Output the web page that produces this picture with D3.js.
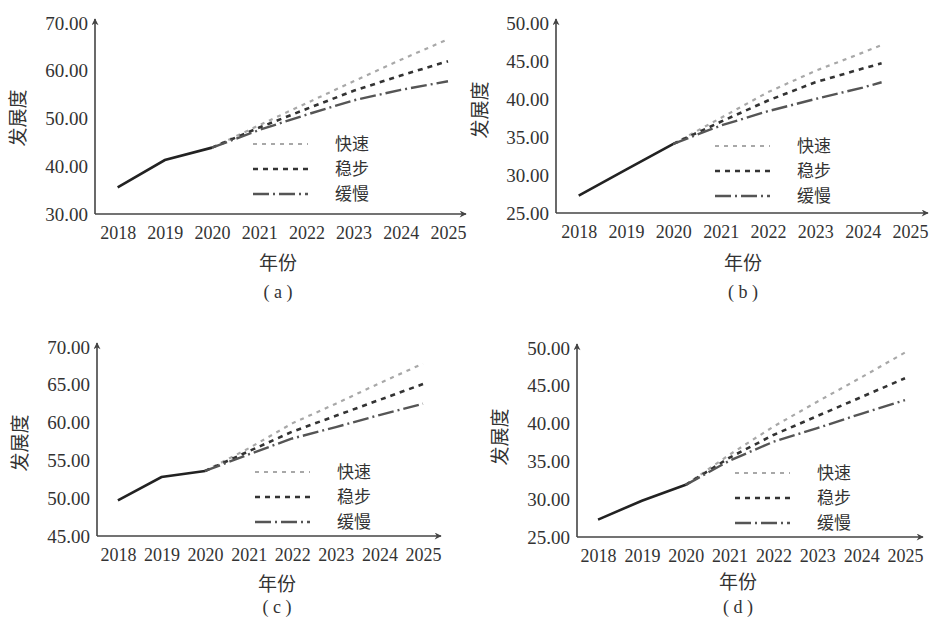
<!DOCTYPE html>
<html>
<head>
<meta charset="utf-8">
<script src="https://cdn.jsdelivr.net/npm/d3@7"></script>
<style>
  body { margin: 0; background: #fff; }
</style>
</head>
<body>
<svg width="929" height="620"></svg>
<script>
// years on the x axis
var years = [2018, 2019, 2020, 2021, 2022, 2023, 2024, 2025];
var histYears = [2018, 2019, 2020];
var foreYears = [2020, 2021, 2022, 2023, 2024, 2025];
var foreYearsB = [2020, 2021, 2022, 2023, 2024, 2024.4];

var legendNames = ["快速", "稳步", "缓慢"];

// (a)
var ticksA = [30, 40, 50, 60, 70];
var histA = [35.6, 41.3, 43.9];
var fastA = [43.9, 48.6, 53.2, 57.8, 62.3, 66.6];
var steadyA = [43.9, 48.1, 52.0, 55.8, 59.0, 62.0];
var slowA = [43.9, 47.6, 50.8, 53.8, 56.0, 57.8];

// (b)
var ticksB = [25, 30, 35, 40, 45, 50];
var histB = [27.3, 30.7, 34.1];
var fastB = [34.1, 37.5, 40.9, 43.7, 46.1, 47.1];
var steadyB = [34.1, 37.0, 39.8, 42.2, 44.0, 44.7];
var slowB = [34.1, 36.5, 38.4, 40.0, 41.5, 42.2];

// (c)
var ticksC = [45, 50, 55, 60, 65, 70];
var histC = [49.7, 52.8, 53.6];
var fastC = [53.6, 56.6, 59.9, 62.5, 65.2, 67.8];
var steadyC = [53.6, 56.2, 58.8, 60.9, 63.0, 65.1];
var slowC = [53.6, 55.8, 57.9, 59.4, 61.0, 62.5];

// (d)
var ticksD = [25, 30, 35, 40, 45, 50];
var histD = [27.3, 29.8, 31.9];
var fastD = [31.9, 35.9, 39.6, 42.9, 46.1, 49.4];
var steadyD = [31.9, 35.5, 38.5, 41.0, 43.5, 46.0];
var slowD = [31.9, 35.1, 37.6, 39.4, 41.3, 43.1];

var styles = [
    {color: "#a8a8a8", width: 2.2, dash: "4,5"},
    {color: "#333", width: 2.6, dash: "5,5"},
    {color: "#555", width: 2.4, dash: "16,4,2,4"}
];

var serif = "'Liberation Serif', 'DejaVu Serif', serif";
var cjk = "'Noto Sans CJK SC', sans-serif";

var svg = d3.select("svg");

var defs = svg.append("defs");
defs.append("marker").attr("id", "arrow")
    .attr("viewBox", "0 0 10 10").attr("refX", 9).attr("refY", 5)
    .attr("markerWidth", 9).attr("markerHeight", 7)
    .attr("markerUnits", "userSpaceOnUse")
    .attr("orient", "auto")
    .append("path").attr("d", "M0,0 L10,5 L0,10 L3,5 Z").attr("fill", "#444");

function drawPanel(p){
    var x = d3.scaleLinear().domain([2017.52, 2025]).range([p.x0, p.x1]);
    var y = d3.scaleLinear().domain([p.ticks[0], p.ticks[p.ticks.length - 1]]).range([p.y0, p.y1]);

    var g = svg.append("g");

    // axis lines with arrows
    g.append("line").attr("x1", x(2017.52)).attr("y1", p.y0).attr("x2", x(2017.52)).attr("y2", p.y1 - 4)
        .attr("stroke", "#444").attr("stroke-width", 1.6).attr("marker-end", "url(#arrow)");
    g.append("line").attr("x1", x(2017.52)).attr("y1", p.y0).attr("x2", p.xEnd).attr("y2", p.y0)
        .attr("stroke", "#444").attr("stroke-width", 1.6).attr("marker-end", "url(#arrow)");

    var yAxis = g.append("g").attr("transform", "translate(" + x(2017.52) + ",0)")
        .call(d3.axisLeft(y).tickValues(p.ticks).tickFormat(d3.format(".2f")).tickSize(0).tickPadding(7));
    yAxis.select(".domain").remove();
    yAxis.selectAll("text").style("font-family", serif).style("font-size", "19px").attr("fill", "#333");

    var xAxis = g.append("g").attr("transform", "translate(0," + p.y0 + ")")
        .call(d3.axisBottom(x).tickValues(years).tickFormat(d3.format("d")).tickSize(0).tickPadding(12));
    xAxis.select(".domain").remove();
    xAxis.selectAll("text").style("font-family", serif).style("font-size", "18px").attr("fill", "#333");

    var line = d3.line().x(function(d){return x(d[0]);}).y(function(d){return y(d[1]);});

    // history
    g.append("path").datum(d3.zip(histYears, p.hist))
        .attr("d", line).attr("fill", "none").attr("stroke", "#222").attr("stroke-width", 2.6);

    // forecasts
    [p.fast, p.steady, p.slow].forEach(function(vals, i){
        g.append("path").datum(d3.zip(p.foreYears, vals))
            .attr("d", line).attr("fill", "none")
            .attr("stroke", styles[i].color).attr("stroke-width", styles[i].width)
            .attr("stroke-dasharray", styles[i].dash);
    });

    // legend
    legendNames.forEach(function(name, i){
        var ly = p.legY + i * 25;
        g.append("line").attr("x1", p.legX).attr("x2", p.legX + 55).attr("y1", ly).attr("y2", ly)
            .attr("stroke", styles[i].color).attr("stroke-width", styles[i].width)
            .attr("stroke-dasharray", styles[i].dash);
        g.append("text").attr("x", p.legX + 82).attr("y", ly)
            .attr("dy", "0.35em").style("font-family", cjk).style("font-size", "17px")
            .attr("fill", "#333").text(name);
    });

    // axis titles
    g.append("text")
        .attr("transform", "translate(" + p.yTitle[0] + "," + p.yTitle[1] + ") rotate(-90)")
        .attr("text-anchor", "middle").attr("dy", "0.35em")
        .style("font-family", cjk).style("font-size", "19px").attr("fill", "#333").text("发展度");
    g.append("text").attr("x", p.xTitle[0]).attr("y", p.xTitle[1])
        .attr("text-anchor", "middle").attr("dy", "0.35em")
        .style("font-family", cjk).style("font-size", "19px").attr("fill", "#333").text("年份");
    g.append("text").attr("x", p.xTitle[0]).attr("y", p.xTitle[1] + p.labelGap)
        .attr("text-anchor", "middle").attr("dy", "0.35em")
        .style("font-family", serif).style("font-size", "18px").attr("fill", "#333")
        .text("( " + p.label + " )");
}

var panels = [
    {label: "a", ticks: ticksA, hist: histA, fast: fastA, steady: steadyA, slow: slowA, foreYears: foreYears,
     x0: 95, x1: 448, xEnd: 466, y0: 214, y1: 23, legX: 253, legY: 144, yTitle: [18, 118],
     xTitle: [278, 263], labelGap: 29},
    {label: "b", ticks: ticksB, hist: histB, fast: fastB, steady: steadyB, slow: slowB, foreYears: foreYearsB,
     x0: 556, x1: 910, xEnd: 928, y0: 213, y1: 23, legX: 715, legY: 146, yTitle: [480, 110],
     xTitle: [743, 263], labelGap: 29},
    {label: "c", ticks: ticksC, hist: histC, fast: fastC, steady: steadyC, slow: slowC, foreYears: foreYears,
     x0: 97, x1: 423, xEnd: 441, y0: 536, y1: 347, legX: 255, legY: 472, yTitle: [20, 443],
     xTitle: [277, 584], labelGap: 23},
    {label: "d", ticks: ticksD, hist: histD, fast: fastD, steady: steadyD, slow: slowD, foreYears: foreYears,
     x0: 577, x1: 905, xEnd: 923, y0: 537, y1: 348, legX: 735, legY: 473, yTitle: [500, 437],
     xTitle: [738, 582], labelGap: 25}
];

panels.forEach(drawPanel);
</script>
</body>
</html>
